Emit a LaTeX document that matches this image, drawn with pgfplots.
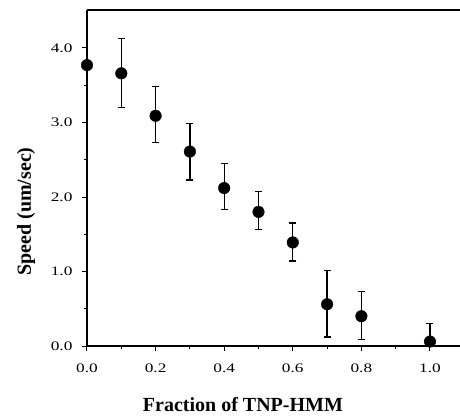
\documentclass[border=0pt]{standalone}
\usepackage{pgfplots}
\pgfplotsset{compat=1.18}
\usepackage{fontspec}
\setmainfont{Liberation Serif}
\newfontfamily\tickfont{Liberation Serif}[FakeStretch=1.33]
\begin{document}
\begin{tikzpicture}
\path[use as bounding box] (-87pt,-70pt) rectangle (373pt,346pt);
\begin{axis}[
  at={(0,0)}, anchor=south west,
  scale only axis, width=373pt, height=336pt,
  xmin=0, xmax=1.0875, ymin=0, ymax=4.51,
  axis x line=box, axis y line=left,
  axis line style={line width=1.6pt, -},
  xtick={0,0.2,...,1.0}, ytick={0,1,...,4},
  minor xtick={0.1,0.3,0.5,0.7,0.9}, minor ytick={0.5,1.5,2.5,3.5},
  xtick pos=bottom, ytick pos=left,
  tick align=outside,
  major tick length=5pt, minor tick length=3pt,
  tick style={line width=1pt, black},
  /pgf/number format/fixed,
  /pgf/number format/fixed zerofill,
  /pgf/number format/precision=1,
  /pgf/number format/assume math mode=true,
  ticklabel style={font=\tickfont\fontsize{13}{15}\selectfont},
  xticklabel style={yshift=-9pt},
  yticklabel style={xshift=-6pt},
  xlabel={\textbf{Fraction of TNP-HMM}},
  ylabel={\textbf{Speed (um/sec)}},
  label style={font=\fontsize{20}{22}\selectfont},
  xlabel style={at={(rel axis cs:0.418,0)}, anchor=center, yshift=-59pt},
  ylabel style={at={(rel axis cs:0,0.40)}, anchor=center, yshift=61pt},
  clip=false,
]
\addplot[only marks, mark=*, mark size=5.8pt, black,
  error bars/.cd, y dir=both, y explicit,
  error bar style={line width=1.3pt, black},
  error mark options={rotate=90, mark size=3.5pt, line width=1.3pt}]
  table[x=x, y=y, y error plus=ep, y error minus=em] {
  x    y     ep    em
  0.0  3.77  0     0
  0.1  3.66  0.47  0.46
  0.2  3.09  0.39  0.36
  0.3  2.61  0.38  0.38
  0.4  2.12  0.33  0.29
  0.5  1.80  0.27  0.24
  0.6  1.39  0.26  0.25
  0.7  0.56  0.45  0.44
  0.8  0.40  0.33  0.31
  1.0  0.06  0.24  0.06
};
\end{axis}
\end{tikzpicture}
\end{document}
